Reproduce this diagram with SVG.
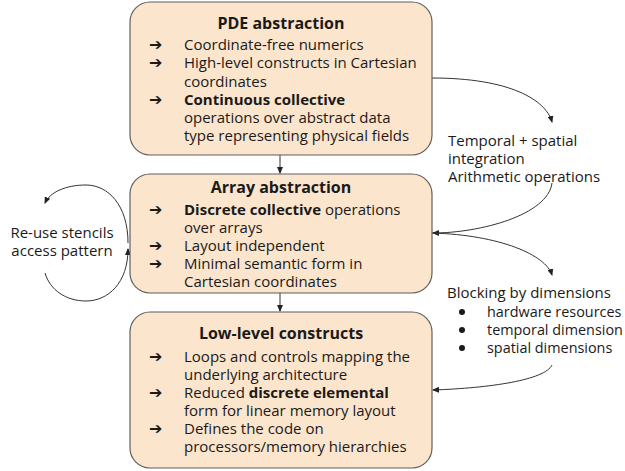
<svg xmlns="http://www.w3.org/2000/svg" width="625" height="471" viewBox="0 0 625 471">
<defs>
<marker id="ah" markerWidth="7" markerHeight="6" refX="6" refY="3" orient="auto" markerUnits="userSpaceOnUse">
<path d="M0,0 L7,3 L0,6 z" fill="#222"/>
</marker>
<style>
.box{fill:#fce5cd;stroke:#5f5f5f;stroke-width:1.2}
text{font-family:"Open Sans","Noto Sans",sans-serif;font-size:15px;fill:#1a1a1a}
.t{font-size:16px;font-weight:bold;text-anchor:middle}
.b{font-weight:bold}
.ar{font-family:"DejaVu Sans",sans-serif;font-size:16px;font-weight:bold}
.c{fill:none;stroke:#333;stroke-width:1}
.s{font-size:14.4px}
</style>
</defs>
<rect width="625" height="471" fill="#fff"/>
<g id="connectors">
<path class="c" d="M280,155 L280,173" marker-end="url(#ah)"/>
<path class="c" d="M280,293 L280,311" marker-end="url(#ah)"/>
<path class="c" d="M432,78 C510,78 546,100 552,122" marker-end="url(#ah)"/>
<path class="c" d="M552,183 C548,215 480,233 433,233" marker-end="url(#ah)"/>
<path class="c" d="M432,233 C500,235 546,255 552,275" marker-end="url(#ah)"/>
<path class="c" d="M552,365 C545,380 490,388 433,390" marker-end="url(#ah)"/>
<path class="c" d="M128,243 C128,205 108,185 86,185 C66,185 50,192 45,203" marker-end="url(#ah)"/>
<path class="c" d="M45,273 C50,290 66,301 86,301 C108,301 128,283 128,249" marker-end="url(#ah)"/>
</g>
<g id="pde">
<rect class="box" x="130" y="2" width="302" height="153" rx="20"/>
<text class="t" x="281" y="29">PDE abstraction</text>
<text class="ar" x="149" y="50">➔</text>
<text x="184" y="50">Coordinate-free numerics</text>
<text class="ar" x="149" y="68">➔</text>
<text x="184" y="68">High-level constructs in Cartesian</text>
<text x="184" y="87">coordinates</text>
<text class="ar" x="149" y="105">➔</text>
<text x="184" y="105" class="b">Continuous collective</text>
<text x="184" y="123">operations over abstract data</text>
<text x="184" y="141">type representing physical fields</text>
</g>
<g id="array">
<rect class="box" x="130" y="174" width="302" height="119" rx="20"/>
<text class="t" x="281" y="193">Array abstraction</text>
<text class="ar" x="149" y="215">➔</text>
<text x="184" y="215"><tspan class="b">Discrete collective</tspan> operations</text>
<text x="184" y="233">over arrays</text>
<text class="ar" x="149" y="251">➔</text>
<text x="184" y="251">Layout independent</text>
<text class="ar" x="149" y="269">➔</text>
<text x="184" y="269">Minimal semantic form in</text>
<text x="184" y="287">Cartesian coordinates</text>
</g>
<g id="lowlevel">
<rect class="box" x="130" y="312" width="302" height="156" rx="20"/>
<text class="t" x="281" y="339">Low-level constructs</text>
<text class="ar" x="149" y="362">➔</text>
<text x="184" y="362">Loops and controls mapping the</text>
<text x="184" y="380">underlying architecture</text>
<text class="ar" x="149" y="398">➔</text>
<text x="184" y="398">Reduced <tspan class="b">discrete elemental</tspan></text>
<text x="184" y="416">form for linear memory layout</text>
<text class="ar" x="149" y="434">➔</text>
<text x="184" y="434">Defines the code on</text>
<text x="184" y="452">processors/memory hierarchies</text>
</g>
<g id="reuse">
<text x="62" y="238" text-anchor="middle">Re-use stencils</text>
<text x="62" y="256" text-anchor="middle">access pattern</text>
</g>
<g id="temporal">
<text x="448" y="146">Temporal + spatial</text>
<text x="448" y="164">integration</text>
<text x="448" y="182">Arithmetic operations</text>
</g>
<g id="blocking">
<text x="447" y="298">Blocking by dimensions</text>
<circle cx="462" cy="312" r="3" fill="#1a1a1a"/>
<text class="s" x="487" y="317">hardware resources</text>
<circle cx="462" cy="330" r="3" fill="#1a1a1a"/>
<text class="s" x="487" y="335">temporal dimension</text>
<circle cx="462" cy="348" r="3" fill="#1a1a1a"/>
<text class="s" x="487" y="353">spatial dimensions</text>
</g>
</svg>
